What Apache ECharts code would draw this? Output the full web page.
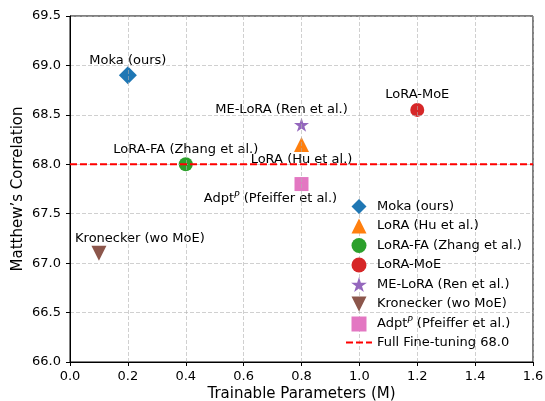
<!DOCTYPE html>
<html><head><meta charset="utf-8">
<script src="https://cdn.jsdelivr.net/npm/echarts@6/dist/echarts.min.js"></script>
<style>html,body{margin:0;padding:0;background:#fff}#c{width:545px;height:401px}</style>
</head><body><div id="c"></div>
<script>
const names = ['Moka (ours)', 'LoRA (Hu et al.)', 'LoRA-FA (Zhang et al.)', 'LoRA-MoE', 'ME-LoRA (Ren et al.)', 'Kronecker (wo MoE)', 'Adpt^P (Pfeiffer et al.)'];
const params = [0.2, 0.8, 0.4, 1.2, 0.8, 0.1, 0.8];
const scores = [68.9, 68.2, 68.0, 68.55, 68.4, 67.1, 67.8];
const fullName = 'Full Fine-tuning 68.0';
const fullScore = 68.0;
const xRange = [0, 1.6];
const yRange = [66.0, 69.5];

const colors = ['#1f77b4', '#ff7f0e', '#2ca02c', '#d62728', '#9467bd', '#8c564b', '#e377c2'];
const symbols = [
  'path://M1,0 L2,1 L1,2 L0,1 Z',
  'path://M1,0 L2,2 L0,2 Z',
  'circle',
  'circle',
  'path://M0,-1 L0.2245,-0.309 L0.951,-0.309 L0.363,0.118 L0.588,0.809 L0,0.382 L-0.588,0.809 L-0.363,0.118 L-0.951,-0.309 L-0.2245,-0.309 Z',
  'path://M0,0 L2,0 L1,2 Z',
  'path://M0,0 L2,0 L2,2 L0,2 Z'
];
const sizes = [18, 15, 14, 14, [15, 14], 15, 14];
const offsets = [[0, -15], [0, 15], [0, -15], [0, -15], [-20, -15], [41, -15], [-31, 15]];
const FONT = 'DejaVu Sans';
const FS = 13;
const rich = { sup: { fontSize: 9, fontStyle: 'italic', fontFamily: FONT, color: '#000', padding: [0, 0, 7, 0] } };
const fmt = n => n.replace('^P', '{sup|P}');
const gridLine = { show: true, lineStyle: { color: 'rgba(176,176,176,0.6)', width: 1, type: [4, 2] } };

const series = names.map((n, i) => ({
  name: n,
  type: 'scatter',
  symbol: symbols[i],
  symbolSize: sizes[i],
  itemStyle: { color: colors[i], opacity: 1 },
  data: [[params[i], scores[i]]],
  z: 3,
  label: {
    show: true, position: 'inside', offset: offsets[i],
    align: 'center', verticalAlign: 'middle',
    formatter: () => fmt(n),
    color: '#000', fontSize: FS, fontFamily: FONT, rich: rich
  }
}));
series.push({
  name: fullName, type: 'line', symbol: 'none', showSymbol: false,
  data: [[xRange[0], fullScore], [xRange[1], fullScore]],
  lineStyle: { color: '#ff0000', width: 1.9, type: [7, 3] },
  itemStyle: { color: '#ff0000' },
  z: 6, silent: true
});

const chart = echarts.init(document.getElementById('c'), null, { renderer: 'canvas' });
chart.setOption({
  animation: false,
  textStyle: { fontFamily: FONT },
  grid: { left: 70, right: 12, top: 16, bottom: 39, outerBoundsMode: 'none', containLabel: false, show: true, borderColor: '#000', borderWidth: 1, backgroundColor: 'transparent' },
  xAxis: {
    type: 'value', min: xRange[0], max: xRange[1], interval: 0.2, z: 5,
    name: 'Trainable Parameters (M)', nameLocation: 'middle', nameGap: 25, nameMoveOverlap: false,
    nameTextStyle: { fontSize: 15, color: '#000', fontFamily: FONT },
    axisLine: { show: true, lineStyle: { color: '#000', width: 1 } },
    axisTick: { show: true, inside: false, length: 4, lineStyle: { color: '#000' } },
    axisLabel: { margin: 8, fontSize: FS, color: '#000', fontFamily: FONT, formatter: v => v.toFixed(1) },
    splitLine: gridLine
  },
  yAxis: {
    type: 'value', min: yRange[0], max: yRange[1], interval: 0.5, z: 5,
    name: 'Matthew\u2019s Correlation', nameLocation: 'middle', nameGap: 44, nameMoveOverlap: false,
    nameTextStyle: { fontSize: 15, color: '#000', fontFamily: FONT },
    axisLine: { show: true, lineStyle: { color: '#000', width: 1 } },
    axisTick: { show: true, inside: false, length: 4, lineStyle: { color: '#000' } },
    axisLabel: { margin: 9, fontSize: FS, color: '#000', fontFamily: FONT, formatter: v => v.toFixed(1) },
    splitLine: gridLine
  },
  legend: {
    orient: 'vertical', left: 340, top: 194, z: 8,
    itemWidth: 26, itemHeight: 15, itemGap: 4.5,
    symbolKeepAspect: true,
    data: names.concat([{ name: fullName, itemStyle: { opacity: 0, color: 'rgba(0,0,0,0)' } }]),
    formatter: fmt,
    textStyle: { fontSize: FS, color: '#000', fontFamily: FONT, rich: rich }
  },
  series: series
});
</script></body></html>
